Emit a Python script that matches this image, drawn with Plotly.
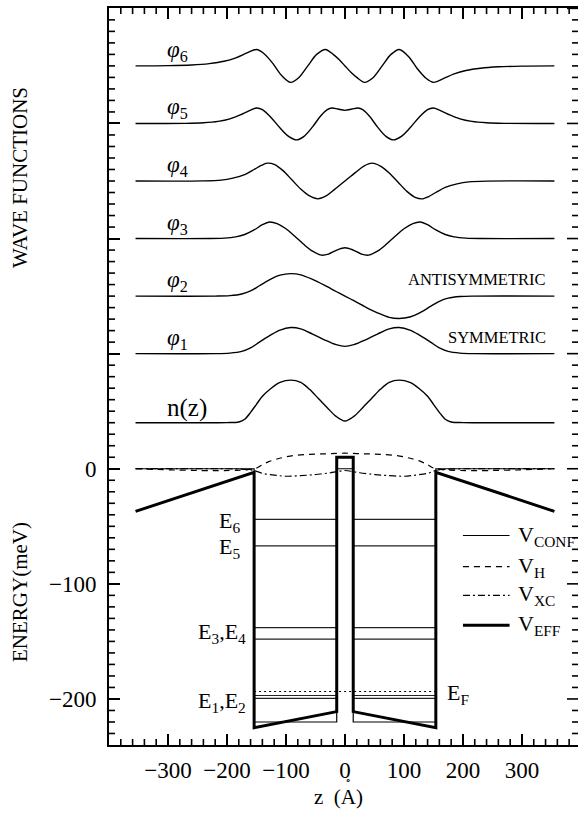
import plotly.graph_objects as go

# ---------------- data (z in Angstrom, energies / offsets in meV) ----------------
# electron density and wave functions: values relative to each curve's baseline
nz_z = [-355, -220, -200, -180, -170, -160, -150, -140, -125, -110, -92, -75, -60, -45, -30, -15, 0,
        15, 30, 45, 60, 75, 92, 110, 125, 140, 150, 160, 170, 180, 200, 220, 355]
nz_v = [0, 0, 0.1, 0.6, 3, 9, 16, 23, 30, 35, 37, 35, 29, 21, 13, 5.5, 1.5,
        5.5, 13, 21, 29, 35, 37, 35, 30, 23, 16, 9, 3, 0.6, 0.1, 0, 0]

phi1_z = [-355, -220, -195, -175, -160, -145, -125, -110, -92, -75, -55, -35, -15, 0,
          15, 35, 55, 75, 92, 110, 125, 145, 160, 175, 195, 220, 355]
phi1_v = [0, 0, 0.5, 2, 5, 10, 16.5, 20.5, 22.7, 21.5, 17, 12, 7.8, 6.3,
          7.8, 12, 17, 21.5, 22.7, 20.5, 16.5, 10, 5, 2, 0.5, 0, 0]

phi2_z = [-355, -220, -195, -175, -160, -145, -125, -110, -92, -75, -55, -35, -15, 0,
          15, 35, 55, 75, 92, 110, 125, 145, 160, 175, 195, 220, 355]
phi2_v = [0, 0, 0.4, 1.8, 4.5, 9, 15, 18.2, 19.5, 18.5, 14.5, 9.5, 4, 0,
          -4, -9.5, -14.5, -18.5, -19.5, -18.2, -15, -9, -4.5, -1.8, -0.4, 0, 0]

phi3_z = [-355, -230, -205, -185, -170, -154, -140, -128, -115, -100, -85, -70, -55, -40, -28, -14, 0,
          14, 28, 40, 55, 70, 85, 100, 115, 128, 140, 154, 170, 185, 205, 230, 355]
phi3_v = [0, 0, 0.4, 1.5, 3.5, 7.5, 12, 14.4, 13, 8.5, 2, -5, -11, -14.4, -13.5, -10, -8,
          -10, -13.5, -14.4, -11, -5, 2, 8.5, 13, 14.4, 12, 7.5, 3.5, 1.5, 0.4, 0, 0]

phi4_z = [-355, -240, -210, -190, -170, -154, -142, -132, -120, -105, -90, -75, -60, -46, -32, -18, 0,
          18, 32, 46, 60, 75, 90, 105, 120, 132, 142, 154, 170, 190, 210, 240, 355]
phi4_v = [0, 0.1, 0.8, 2.5, 5.5, 10, 13.5, 15.5, 14.5, 9, 1, -7, -13, -15.5, -13, -7.5, 0,
          7.5, 13, 15.5, 13, 7, -1, -9, -14.5, -15.5, -13.5, -10, -5.5, -2.5, -0.8, -0.1, 0]

phi5_z = [-355, -270, -240, -215, -195, -175, -160, -150, -140, -125, -110, -95, -82, -70, -55, -42, -30, -22, -12, 0,
          12, 22, 30, 42, 55, 70, 82, 95, 110, 125, 140, 150, 160, 175, 195, 215, 240, 270, 355]
phi5_v = [0, 0.1, 0.6, 1.8, 4, 8, 11.5, 13.4, 12, 5, -4, -11.5, -14.3, -11.5, -3, 6, 12, 13.4, 12.5, 11.4,
          12.5, 13.4, 12, 6, -3, -11.5, -14.3, -11.5, -4, 5, 12, 13.4, 11.5, 8, 4, 1.8, 0.6, 0.1, 0]

phi6_z = [-355, -300, -260, -230, -205, -185, -165, -150, -138, -122, -108, -92, -78, -63, -48, -33, -20, -10, 0,
          10, 20, 33, 48, 63, 78, 92, 108, 122, 138, 150, 165, 185, 205, 230, 260, 300, 355]
phi6_v = [0, 0.2, 0.8, 2, 4, 7, 11.5, 14.3, 11, 2, -8, -14.3, -10, 0, 10, 14.3, 10, 5.5, 0,
          -5.5, -10, -14.3, -10, 0, 10, 14.3, 8, -2, -11, -14.3, -11.5, -7, -4, -2, -0.8, -0.2, 0]

curve_z = [nz_z, phi1_z, phi2_z, phi3_z, phi4_z, phi5_z, phi6_z]
curve_v = [nz_v, phi1_v, phi2_v, phi3_v, phi4_v, phi5_v, phi6_v]
curve_base = [40, 100, 150, 200, 250, 300, 350]
curve_labels = ["n(z)", "<i>φ</i><sub>1</sub>", "<i>φ</i><sub>2</sub>", "<i>φ</i><sub>3</sub>",
                "<i>φ</i><sub>4</sub>", "<i>φ</i><sub>5</sub>", "<i>φ</i><sub>6</sub>"]

# potentials
vconf_z = [-355, -154, -154, -14, -14, 14, 14, 154, 154, 355]
vconf_v = [0, 0, -220, -220, 0, 0, -220, -220, 0, 0]

vh_z = [-355, -154, -140, -130, -115, -93, -60, -30, 0, 30, 60, 93, 115, 130, 140, 154, 355]
vh_v = [0, 0, 3.5, 6, 8.5, 11, 12.5, 13, 13.5, 13, 12.5, 11, 8.5, 6, 3.5, 0, 0]

vxc_z = [-355, -200, -170, -154, -140, -120, -100, -75, -50, -25, -14, 0, 14, 25, 50, 75, 100, 120, 140, 154, 170, 200, 355]
vxc_v = [0, 0, -0.5, -1.5, -4, -5.5, -6.5, -6, -5, -3.5, -2.5, -1.5, -2.5, -3.5, -5, -6, -6.5, -5.5, -4, -1.5, -0.5, 0, 0]

veff_z = [-355, -154, -154, -14, -14, 14, 14, 154, 154, 355]
veff_v = [-37, -3, -225, -211, 10, 10, -211, -225, -3, -37]

# subband energies and Fermi level
level_values = [-199.5, -197, -148, -138, -67, -44]
fermi_level = -193.5
well_left = [-154, -14]
well_right = [14, 154]

# tick positions and labels
X_RANGE = [-400, 395]
Y_RANGE = [-240, 400.3]
x_tickvals = [-400, -300, -200, -100, 0, 100, 200, 300]
x_ticktext = ["", "−300", "−200", "−100", "0", "100", "200", "300"]
y_tickvals = [-200, -100, 0, 100, 200, 300, 400]
y_ticktext = ["−200", "−100", "0", "", "", "", ""]
x_minor = [v for v in range(-380, 395, 20) if v % 100 != 0]
y_minor = [v for v in range(-230, 400, 10) if v % 100 != 0]

FONT = "Liberation Serif"
W, H = 578, 814
L, R, T, B = 109, 0, 8, 69
PW, PH = W - L - R, H - T - B
MINOR_LEN = 6
MAJOR_LEN = 11


def px_x(px):
    return (px - L) / PW


def px_y(py):
    return (H - B - py) / PH


fig = go.Figure()

# wave functions and density, each on its own baseline
for zs, vs, base in zip(curve_z, curve_v, curve_base):
    fig.add_trace(go.Scatter(x=zs, y=[base + v for v in vs], mode="lines",
                             line=dict(color="black", width=1.4, shape="spline", smoothing=0.9),
                             showlegend=False, hoverinfo="skip"))

# subband levels in both wells
for e in level_values:
    for well in (well_left, well_right):
        fig.add_trace(go.Scatter(x=well, y=[e, e], mode="lines",
                                 line=dict(color="#222", width=1.2),
                                 showlegend=False, hoverinfo="skip"))
fig.add_trace(go.Scatter(x=[well_left[0], well_right[1]], y=[fermi_level, fermi_level], mode="lines",
                         line=dict(color="black", width=1.2, dash="2px,3px"),
                         showlegend=False, hoverinfo="skip"))

VH_DASH = "6px,5px"
VXC_DASH = "7px,3px,2px,3px"
fig.add_trace(go.Scatter(x=vconf_z, y=vconf_v, mode="lines",
                         line=dict(color="black", width=1.2), showlegend=False, hoverinfo="skip"))
fig.add_trace(go.Scatter(x=vh_z, y=vh_v, mode="lines",
                         line=dict(color="black", width=1.2, dash=VH_DASH, shape="spline"),
                         showlegend=False, hoverinfo="skip"))
fig.add_trace(go.Scatter(x=vxc_z, y=vxc_v, mode="lines",
                         line=dict(color="black", width=1.2, dash=VXC_DASH, shape="spline"),
                         showlegend=False, hoverinfo="skip"))
fig.add_trace(go.Scatter(x=veff_z, y=veff_v, mode="lines",
                         line=dict(color="black", width=3), showlegend=False, hoverinfo="skip"))

# minor ticks on all four sides of the frame, major ticks on the right edge
tick_line = dict(color="black", width=1.6)
for v in x_minor:
    fig.add_shape(type="line", xref="x", yref="paper", x0=v, x1=v, y0=0, y1=MINOR_LEN / PH,
                  line=tick_line, layer="above")
    fig.add_shape(type="line", xref="x", yref="paper", x0=v, x1=v, y0=1, y1=1 - MINOR_LEN / PH,
                  line=tick_line, layer="above")
for v in y_minor:
    fig.add_shape(type="line", xref="paper", yref="y", x0=0, x1=MINOR_LEN / PW, y0=v, y1=v,
                  line=tick_line, layer="above")
    fig.add_shape(type="line", xref="paper", yref="y", x0=1, x1=1 - MINOR_LEN / PW, y0=v, y1=v,
                  line=tick_line, layer="above")
for v in y_tickvals:
    fig.add_shape(type="line", xref="paper", yref="y", x0=1, x1=1 - MAJOR_LEN / PW, y0=v, y1=v,
                  line=tick_line, layer="above")


# ---------------- text labels ----------------
def label(x, y, text, size=22, xanchor="left"):
    fig.add_annotation(x=x, y=y, xref="x", yref="y", text=text,
                       showarrow=False, xanchor=xanchor, yanchor="middle",
                       font=dict(family=FONT, size=size, color="black"))


for txt, base in zip(curve_labels, curve_base):
    label(-305, base + 13, txt, size=25 if txt.startswith("n") else 23)

label(344, 164, "ANTISYMMETRIC", size=16.5, xanchor="right")
label(344, 114, "SYMMETRIC", size=16.5, xanchor="right")

label(-175, -46, "E<sub>6</sub>", xanchor="right")
label(-175, -69, "E<sub>5</sub>", xanchor="right")
label(-164, -143, "E<sub>3</sub>,E<sub>4</sub>", xanchor="right")
label(-164, -203, "E<sub>1</sub>,E<sub>2</sub>", xanchor="right")
label(170, -196, "E<sub>F</sub>")

# legend: sample strokes with labels
legend_rows = [("V<sub>CONF</sub>", dict(width=1.2), -58),
               ("V<sub>H</sub>", dict(width=1.2, dash=VH_DASH), -85),
               ("V<sub>XC</sub>", dict(width=1.2, dash=VXC_DASH), -110),
               ("V<sub>EFF</sub>", dict(width=3), -136)]
for text, style, ypos in legend_rows:
    fig.add_shape(type="line", xref="x", yref="y", x0=200, x1=279, y0=ypos, y1=ypos,
                  line=dict(color="black", **style))
    label(290, ypos, text, size=22)


# axis titles
def paper_text(px, py, text, size, angle=0):
    fig.add_annotation(x=px_x(px), y=px_y(py), xref="paper", yref="paper", text=text,
                       showarrow=False, textangle=angle, xanchor="center", yanchor="middle",
                       font=dict(family=FONT, size=size, color="black"))


paper_text(20, 178, "WAVE FUNCTIONS", 21, -90)
paper_text(20, 592, "ENERGY(meV)", 21, -90)
paper_text(338, 797, "z  (A)", 21)
paper_text(348, 780, "∘", 10)

axis_common = dict(showline=True, linecolor="black", linewidth=2,
                   showgrid=False, zeroline=False, ticks="inside", tickcolor="black")

fig.update_layout(
    width=W, height=H, margin=dict(l=L, r=R, t=T, b=B),
    plot_bgcolor="white", paper_bgcolor="white",
    font=dict(family=FONT, size=23, color="black"),
    xaxis=dict(range=X_RANGE, tickmode="array", tickvals=x_tickvals, ticktext=x_ticktext,
               ticklen=MAJOR_LEN, tickwidth=1.6, ticklabelstandoff=3, mirror="ticks", **axis_common),
    yaxis=dict(range=Y_RANGE, tickmode="array", tickvals=y_tickvals, ticktext=y_ticktext,
               ticklen=MAJOR_LEN, tickwidth=1.6, ticklabelstandoff=6, mirror=False, **axis_common),
)

fig.write_html("out.html")
